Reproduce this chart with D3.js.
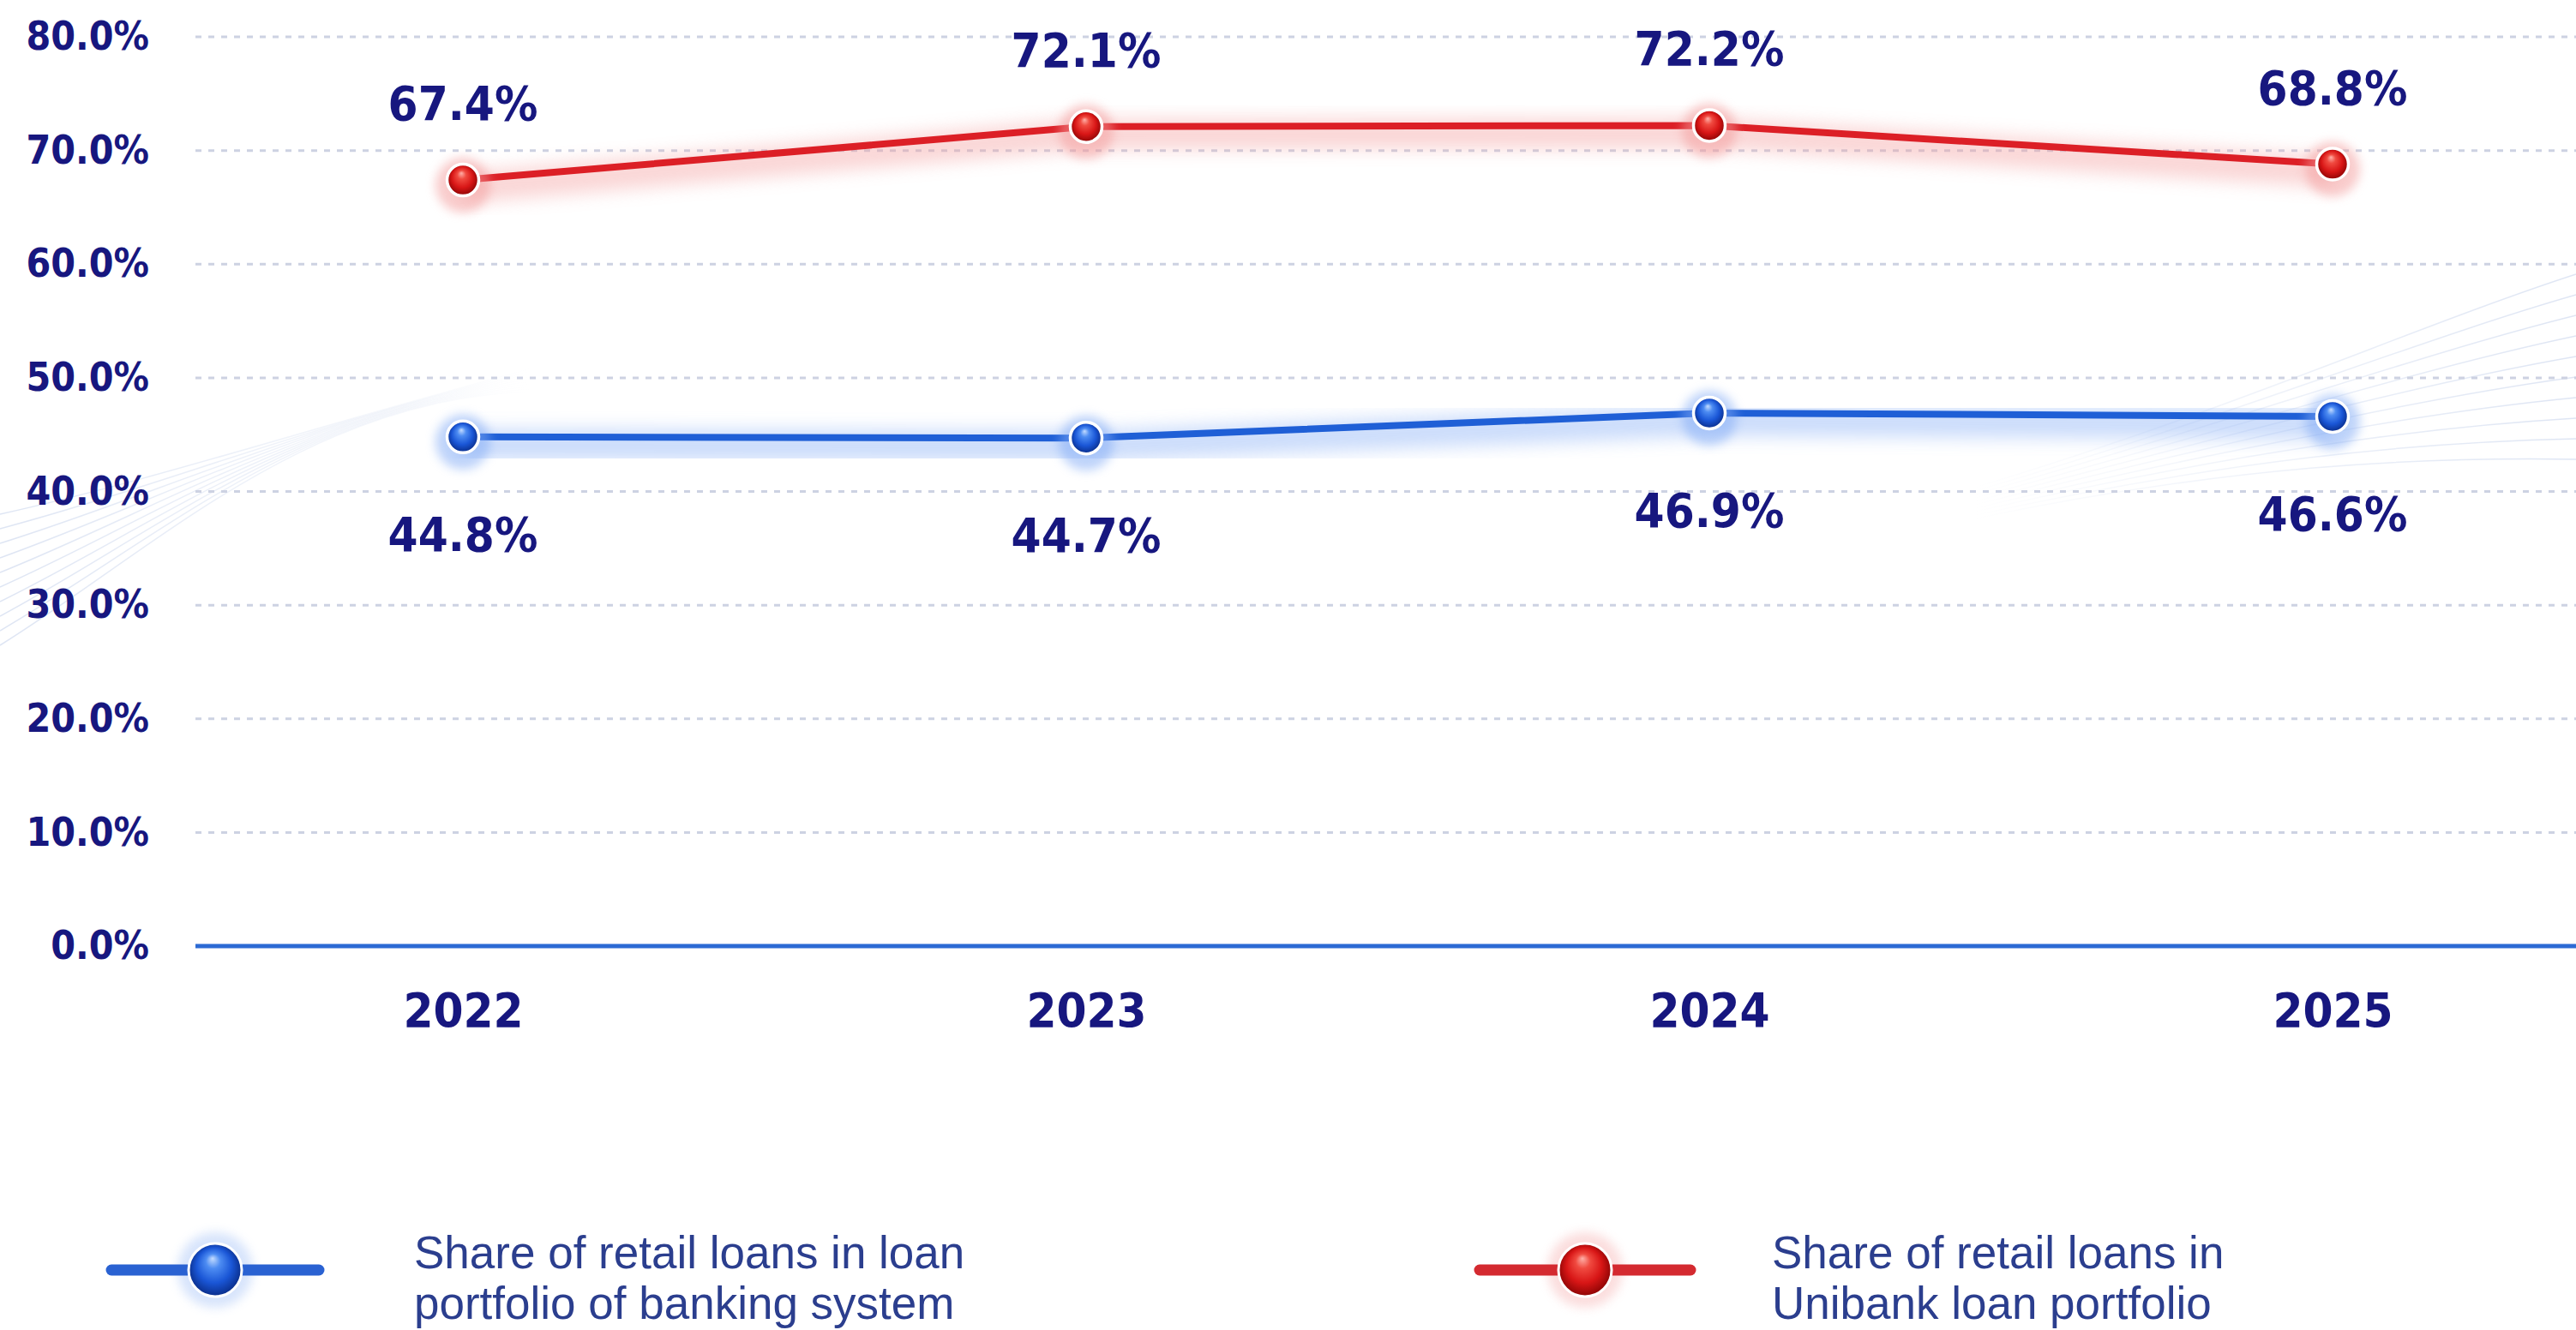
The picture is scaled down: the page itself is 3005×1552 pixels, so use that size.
<!DOCTYPE html>
<html>
<head>
<meta charset="utf-8">
<script src="https://cdn.jsdelivr.net/npm/d3@7"></script>
<style>
  html, body { margin: 0; padding: 0; background: #ffffff; }
  svg { display: block; }
  .lbl { font-family: "DejaVu Sans Condensed", "DejaVu Sans", sans-serif; font-stretch: condensed; font-weight: bold; fill: #17177f; }
  .legend-text { font-family: "Liberation Sans", Arial, Helvetica, sans-serif; fill: #2b3e8e; }
</style>
</head>
<body>
<svg id="chart" width="3005" height="1552"></svg>
<script>
// ---- data ----
const years = ["2022", "2023", "2024", "2025"];
const bankingSystem = [44.8, 44.7, 46.9, 46.6];   // share of retail loans, banking system (%)
const unibank = [67.4, 72.1, 72.2, 68.8];         // share of retail loans, Unibank (%)
const yTicks = [0, 10, 20, 30, 40, 50, 60, 70, 80];
const legendBanking = ["Share of retail loans in loan", "portfolio of banking system"];
const legendUnibank = ["Share of retail loans in", "Unibank loan portfolio"];

const W = 3005, H = 1552;
const svg = d3.select("#chart");

const x = d3.scalePoint().domain(years).range([540, 2721]);
const y = d3.scaleLinear().domain([0, 80]).range([1104, 43]);
const plotLeft = 228;

// ---- defs: glows, fades and glossy ball gradients ----
const defs = svg.append("defs");
[["blur10", 10], ["blur6", 6]].forEach(([id, s]) => {
  defs.append("filter").attr("id", id)
    .attr("x", "-20%").attr("y", "-50%").attr("width", "140%").attr("height", "200%")
    .append("feGaussianBlur").attr("stdDeviation", s);
});
function ballGradient(id, stops) {
  const g = defs.append("radialGradient").attr("id", id)
    .attr("cx", "50%").attr("cy", "50%").attr("r", "55%")
    .attr("fx", "45%").attr("fy", "28%");
  stops.forEach(([o, c]) => g.append("stop").attr("offset", o).attr("stop-color", c));
}
ballGradient("ballRed", [["0%", "#ffb0a8"], ["25%", "#f04a40"], ["60%", "#d81616"], ["100%", "#7c0000"]]);
ballGradient("ballBlue", [["0%", "#c4dcff"], ["25%", "#4d8cf2"], ["60%", "#1a56d6"], ["100%", "#062478"]]);

function fade(id, x1, x2) {
  const g = defs.append("linearGradient").attr("id", id)
    .attr("gradientUnits", "userSpaceOnUse")
    .attr("x1", x1).attr("x2", x2).attr("y1", 0).attr("y2", 0);
  g.append("stop").attr("offset", "0%").attr("stop-color", "#c3d0ea").attr("stop-opacity", 0.55);
  g.append("stop").attr("offset", "100%").attr("stop-color", "#c3d0ea").attr("stop-opacity", 0);
}
fade("fadeLeft", 0, 620);
fade("fadeRight", W, 2300);

// ---- faint decorative sweeps in the background ----
const deco = svg.append("g").attr("fill", "none").attr("stroke-width", 1.5);
d3.range(10).forEach(i => {
  deco.append("path").attr("stroke", "url(#fadeLeft)").attr("d",
    `M0,${600 + i * 17} C180,${560 + i * 9} 360,${500 - i * 4} 620,${430 + i * 3}`);
  deco.append("path").attr("stroke", "url(#fadeRight)").attr("d",
    `M${W},${320 + i * 24} C2820,${380 + i * 17} 2600,${480 + i * 7} 2300,${570 + i * 4}`);
});

// ---- gridlines ----
svg.append("g")
  .selectAll("line")
  .data(yTicks.filter(t => t > 0))
  .join("line")
  .attr("x1", plotLeft).attr("x2", W)
  .attr("y1", d => y(d)).attr("y2", d => y(d))
  .attr("stroke", "#cdd2e2").attr("stroke-width", 3)
  .attr("stroke-dasharray", "7 8");

// base axis line
svg.append("line")
  .attr("x1", plotLeft).attr("x2", W)
  .attr("y1", y(0)).attr("y2", y(0))
  .attr("stroke", "#2c6ad4").attr("stroke-width", 5);

// ---- y axis labels ----
const yAxis = svg.append("g")
  .attr("transform", `translate(174,0)`)
  .call(d3.axisLeft(y).tickValues(yTicks).tickSize(0).tickPadding(0)
    .tickFormat(d => d.toFixed(1) + "%"));
yAxis.select(".domain").remove();
yAxis.selectAll("text").attr("class", "lbl").attr("font-size", 46).attr("fill", null);

// ---- x axis labels ----
const xAxis = svg.append("g")
  .attr("transform", `translate(0,${y(0)})`)
  .call(d3.axisBottom(x).tickSize(0).tickPadding(54));
xAxis.select(".domain").remove();
xAxis.selectAll("text").attr("class", "lbl").attr("font-size", 56).attr("fill", null);

// ---- series ----
const line = d3.line().x((d, i) => x(years[i])).y(d => y(d));

function drawSeries(values, lineColor, glowColor, ballFill, labelDy) {
  const g = svg.append("g");
  // soft glow under the line
  g.append("path").datum(values).attr("d", line)
    .attr("fill", "none").attr("stroke", glowColor).attr("stroke-width", 36)
    .attr("stroke-linejoin", "round").attr("opacity", 0.4)
    .attr("transform", "translate(0,9)").attr("filter", "url(#blur10)");
  // main line
  g.append("path").datum(values).attr("d", line)
    .attr("fill", "none").attr("stroke", lineColor).attr("stroke-width", 8)
    .attr("stroke-linejoin", "round");
  // halo round each point
  g.selectAll("circle.halo").data(values).join("circle").attr("class", "halo")
    .attr("cx", (d, i) => x(years[i])).attr("cy", d => y(d) + 6).attr("r", 32)
    .attr("fill", glowColor).attr("opacity", 0.5).attr("filter", "url(#blur6)");
  // glossy markers
  g.selectAll("circle.ball").data(values).join("circle").attr("class", "ball")
    .attr("cx", (d, i) => x(years[i])).attr("cy", d => y(d)).attr("r", 18.5)
    .attr("fill", ballFill).attr("stroke", "#ffffff").attr("stroke-width", 3.5);
  // value labels
  g.selectAll("text").data(values).join("text").attr("class", "lbl")
    .attr("x", (d, i) => x(years[i])).attr("y", d => y(d) + labelDy)
    .attr("text-anchor", "middle").attr("font-size", 56)
    .text(d => d.toFixed(1) + "%");
}
drawSeries(bankingSystem, "#1f5fd6", "#7fa9f5", "url(#ballBlue)", 133);
drawSeries(unibank, "#dc1f26", "#f39a9a", "url(#ballRed)", -70);

// ---- legend ----
function legendItem(x0, x1, textX, lines, lineColor, glowColor, ballFill) {
  const cy = 1482, cx = (x0 + x1) / 2;
  const g = svg.append("g");
  g.append("line").attr("x1", x0).attr("x2", x1).attr("y1", cy).attr("y2", cy)
    .attr("stroke", glowColor).attr("stroke-width", 40).attr("opacity", 0.4).attr("filter", "url(#blur6)");
  g.append("circle").attr("cx", cx).attr("cy", cy).attr("r", 44)
    .attr("fill", glowColor).attr("opacity", 0.35).attr("filter", "url(#blur6)");
  g.append("line").attr("x1", x0).attr("x2", x1).attr("y1", cy).attr("y2", cy)
    .attr("stroke", lineColor).attr("stroke-width", 13).attr("stroke-linecap", "round");
  g.append("circle").attr("cx", cx).attr("cy", cy).attr("r", 31)
    .attr("fill", ballFill).attr("stroke", "#ffffff").attr("stroke-width", 3);
  g.selectAll("text").data(lines).join("text").attr("class", "legend-text")
    .attr("x", textX).attr("y", (d, i) => 1480 + i * 59)
    .attr("font-size", 53).text(d => d);
}
legendItem(130, 372, 483, legendBanking, "#2a62d2", "#8fb4f5", "url(#ballBlue)");
legendItem(1726, 1972, 2067, legendUnibank, "#d42a30", "#f4a0a0", "url(#ballRed)");
</script>
</body>
</html>
